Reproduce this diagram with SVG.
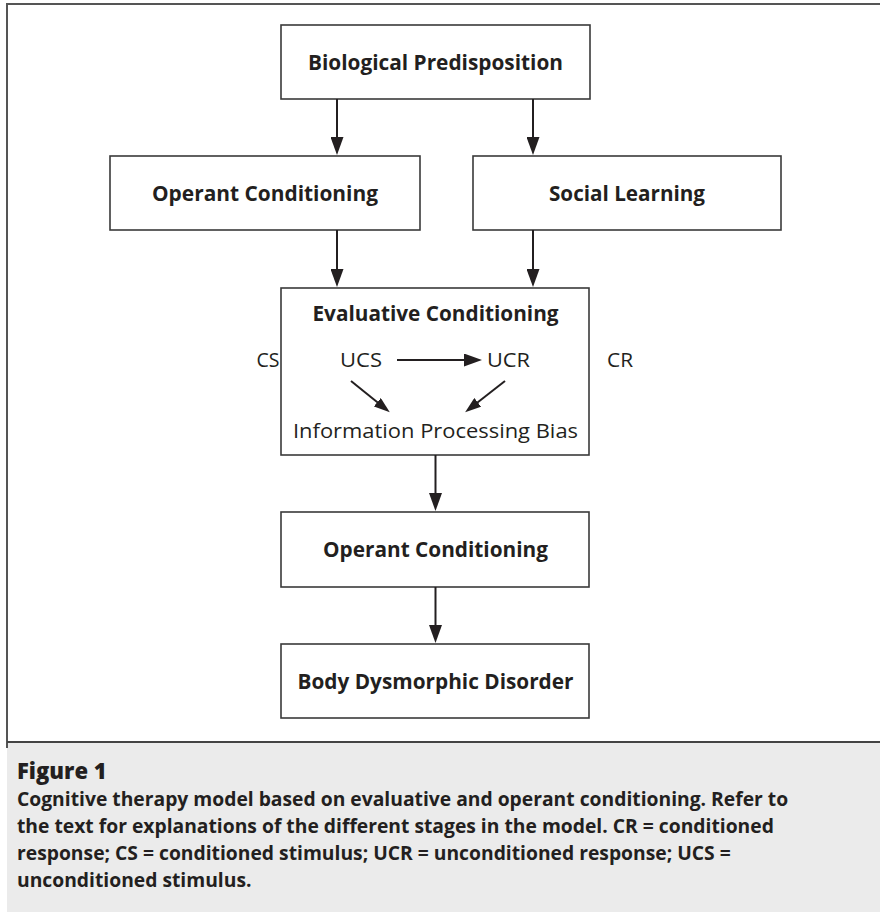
<svg xmlns="http://www.w3.org/2000/svg" width="880" height="912" viewBox="0 0 880 912">
<style>
.box{fill:#fff;stroke:#3a3a3a;stroke-width:1.6}
.t{font-family:"Open Sans","Noto Sans",sans-serif;fill:#231f20;text-anchor:middle}
.b{font-weight:700;font-size:20.5px}
.r{font-weight:400;font-size:19.5px}
.cap{font-family:"Open Sans","Noto Sans",sans-serif;fill:#231f20;font-weight:700;font-size:19.3px}
.ln{stroke:#231f20;stroke-width:2;fill:none}
</style>
<defs>
<marker id="ah" viewBox="0 0 18 13" refX="8" refY="6.5" markerWidth="18" markerHeight="13" markerUnits="userSpaceOnUse" orient="auto">
<path d="M0,0 L18,6.5 L0,13 Z" fill="#231f20"/>
</marker>
<marker id="ahs" viewBox="0 0 16 11" refX="6" refY="5.5" markerWidth="16" markerHeight="11" markerUnits="userSpaceOnUse" orient="auto">
<path d="M0,0 L16,5.5 L0,11 Z" fill="#231f20"/>
</marker>
</defs>
<rect width="880" height="912" fill="#fff"/>
<g id="frame">
<rect x="7" y="742" width="873" height="170" fill="#ebebeb"/>
<line x1="7" y1="4" x2="880" y2="4" stroke="#555" stroke-width="2"/>
<line x1="7" y1="3" x2="7" y2="748" stroke="#555" stroke-width="2"/>
<line x1="7" y1="742" x2="880" y2="742" stroke="#444" stroke-width="2"/>
</g>
<g id="bio">
<rect class="box" x="281" y="25" width="309" height="74"/>
<text class="t b" x="435.5" y="69.5" textLength="255" lengthAdjust="spacingAndGlyphs">Biological Predisposition</text>
</g>
<g id="operant1">
<rect class="box" x="110" y="156" width="310" height="74"/>
<text class="t b" x="265" y="200.5" textLength="226" lengthAdjust="spacingAndGlyphs">Operant Conditioning</text>
</g>
<g id="social">
<rect class="box" x="473" y="156" width="308" height="74"/>
<text class="t b" x="627" y="200.5" textLength="156" lengthAdjust="spacingAndGlyphs">Social Learning</text>
</g>
<g id="evaluative">
<rect class="box" x="281" y="288" width="308" height="167"/>
<text class="t b" x="435.5" y="321" textLength="246" lengthAdjust="spacingAndGlyphs">Evaluative Conditioning</text>
<text class="t r" x="361" y="367" textLength="42" lengthAdjust="spacingAndGlyphs">UCS</text>
<text class="t r" x="508.5" y="367" textLength="43" lengthAdjust="spacingAndGlyphs">UCR</text>
<text class="t r" x="435.5" y="438" textLength="285" lengthAdjust="spacingAndGlyphs">Information Processing Bias</text>
</g>
<g id="cs">
<text class="t r" x="268" y="367" textLength="23" lengthAdjust="spacingAndGlyphs">CS</text>
</g>
<g id="cr">
<text class="t r" x="620" y="367" textLength="26" lengthAdjust="spacingAndGlyphs">CR</text>
</g>
<g id="operant2">
<rect class="box" x="281" y="512" width="308" height="75"/>
<text class="t b" x="435.5" y="556.5" textLength="225" lengthAdjust="spacingAndGlyphs">Operant Conditioning</text>
</g>
<g id="bdd">
<rect class="box" x="281" y="644" width="308" height="74"/>
<text class="t b" x="435.5" y="688.5" textLength="276" lengthAdjust="spacingAndGlyphs">Body Dysmorphic Disorder</text>
</g>
<g id="connectors">
<line class="ln" x1="337" y1="99" x2="337" y2="145" marker-end="url(#ah)"/>
<line class="ln" x1="533" y1="99" x2="533" y2="145" marker-end="url(#ah)"/>
<line class="ln" x1="337" y1="230" x2="337" y2="277" marker-end="url(#ah)"/>
<line class="ln" x1="533" y1="230" x2="533" y2="277" marker-end="url(#ah)"/>
<line class="ln" x1="435.5" y1="455" x2="435.5" y2="501" marker-end="url(#ah)"/>
<line class="ln" x1="435.5" y1="587" x2="435.5" y2="633" marker-end="url(#ah)"/>
<line class="ln" x1="397" y1="360" x2="472" y2="360" marker-end="url(#ah)"/>
<line class="ln" x1="351" y1="381" x2="382" y2="406" marker-end="url(#ahs)"/>
<line class="ln" x1="505" y1="381" x2="473" y2="406" marker-end="url(#ahs)"/>
</g>
<g id="caption">
<text class="cap" x="17" y="779" style="font-weight:800;font-size:22px">Figure 1</text>
<text class="cap" x="17" y="806">Cognitive therapy model based on evaluative and operant conditioning. Refer to</text>
<text class="cap" x="17" y="833">the text for explanations of the different stages in the model. CR = conditioned</text>
<text class="cap" x="17" y="860">response; CS = conditioned stimulus; UCR = unconditioned response; UCS =</text>
<text class="cap" x="17" y="887">unconditioned stimulus.</text>
</g>
</svg>
